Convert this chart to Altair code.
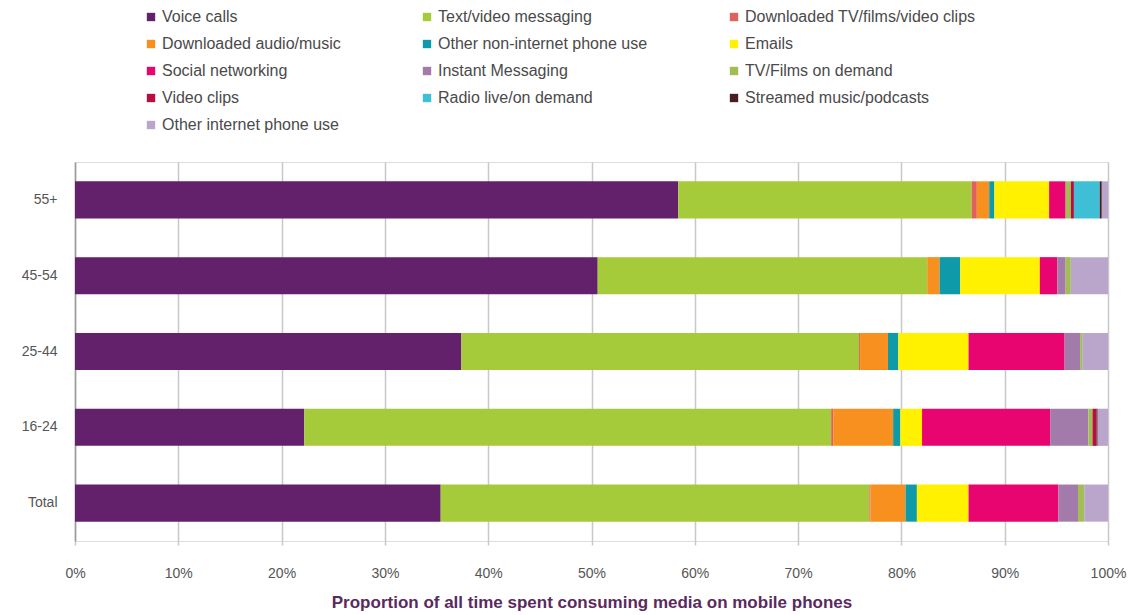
import altair as alt
import pandas as pd

categories = ["55+", "45-54", "25-44", "16-24", "Total"]

series_names = [
    "Voice calls", "Text/video messaging", "Downloaded TV/films/video clips",
    "Downloaded audio/music", "Other non-internet phone use", "Emails",
    "Social networking", "Instant Messaging", "TV/Films on demand",
    "Video clips", "Radio live/on demand", "Streamed music/podcasts",
    "Other internet phone use",
]

voice_calls = [58.4, 50.6, 37.4, 22.2, 35.4]
text_video_messaging = [28.4, 31.9, 38.5, 51.0, 41.5]
downloaded_tv = [0.5, 0.0, 0.1, 0.2, 0.1]
downloaded_audio = [1.2, 1.2, 2.7, 5.8, 3.4]
other_non_internet = [0.5, 2.0, 1.0, 0.7, 1.1]
emails = [5.3, 7.7, 6.8, 2.1, 5.0]
social_networking = [1.6, 1.7, 9.3, 12.4, 8.7]
instant_messaging = [0.0, 0.8, 1.5, 3.7, 1.9]
tv_films_on_demand = [0.5, 0.5, 0.2, 0.4, 0.6]
video_clips = [0.3, 0.0, 0.0, 0.4, 0.0]
radio = [2.5, 0.0, 0.0, 0.0, 0.0]
streamed_music = [0.2, 0.0, 0.0, 0.1, 0.0]
other_internet = [0.6, 3.6, 2.5, 1.0, 2.3]

series_values = [
    voice_calls, text_video_messaging, downloaded_tv, downloaded_audio,
    other_non_internet, emails, social_networking, instant_messaging,
    tv_films_on_demand, video_clips, radio, streamed_music, other_internet,
]

colors = [
    "#62216a", "#a6cb3a", "#e0605e", "#f7901e", "#0f9aaa", "#fff100",
    "#e8056f", "#a27bab", "#a3bd55", "#b51040", "#3fbfd5", "#4b1c22",
    "#bba6cb",
]

x_ticks = [0, 10, 20, 30, 40, 50, 60, 70, 80, 90, 100]

rows = []
for si, (name, vals) in enumerate(zip(series_names, series_values)):
    for cat, v in zip(categories, vals):
        rows.append({"group": cat, "series": name, "value": v / 100.0, "order": si})
df = pd.DataFrame(rows)

FONT = "Liberation Sans"

chart = alt.Chart(df).mark_bar().encode(
    y=alt.Y(
        "group:N",
        sort=categories,
        scale=alt.Scale(paddingInner=0.51, paddingOuter=0.255),
        axis=alt.Axis(
            title=None, ticks=False, labelPadding=18, labelFontSize=14,
            labelColor="#555555", labelFont=FONT, domainColor="#9a9a9a",
            domainWidth=1.5, grid=False,
        ),
    ),
    x=alt.X(
        "value:Q",
        stack="zero",
        scale=alt.Scale(domain=[0, 1], nice=False),
        axis=alt.Axis(
            format=".0%", values=[t / 100 for t in x_ticks],
            title="Proportion of all time spent consuming media on mobile phones",
            titleFont=FONT, titleFontSize=17, titleFontWeight="bold",
            titleColor="#5a2a5e", titlePadding=14,
            labelFont=FONT, labelFontSize=14, labelColor="#555555",
            labelPadding=21, labelFlush=False, tickSize=4, tickColor="#c8c8c8",
            tickWidth=1.5, domain=False, grid=True, gridColor="#c8c8c8",
            gridWidth=1.5,
        ),
    ),
    color=alt.Color(
        "series:N",
        scale=alt.Scale(domain=series_names, range=colors),
        legend=alt.Legend(
            title=None, orient="none", legendX=68, legendY=-153, columns=3,
            direction="horizontal",
            symbolType="square", symbolSize=70, symbolStrokeWidth=0,
            labelFont=FONT, labelFontSize=16, labelColor="#4a4a4a",
            columnPadding=78, rowPadding=11, labelOffset=3, labelLimit=300,
        ),
    ),
    order=alt.Order("order:Q", sort="ascending"),
).properties(
    width=1033,
    height=379,
    padding={"left": 75, "top": 162, "right": 26, "bottom": 74},
    autosize=alt.AutoSizeParams(type="none"),
).configure_view(stroke=None).configure(background="white")

chart.save("out.html", embed_options={"renderer": "svg", "actions": False})
